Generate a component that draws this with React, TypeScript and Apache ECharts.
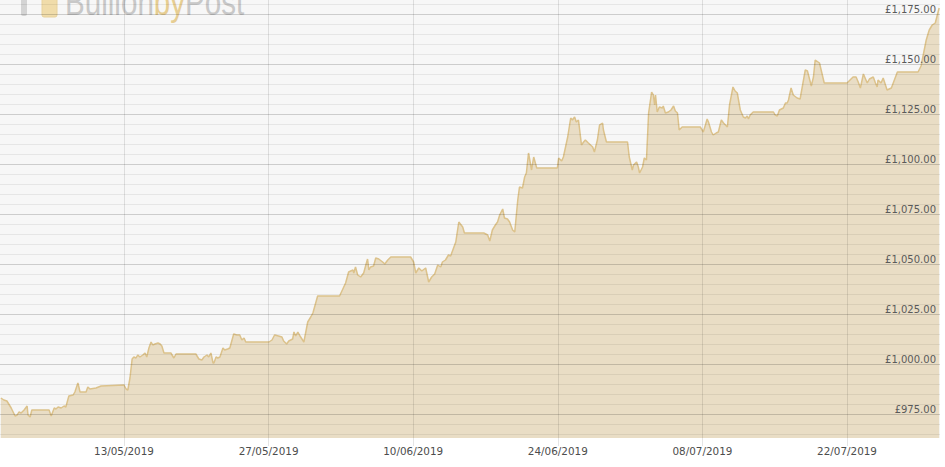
import React, { useEffect, useRef } from "react";
import * as echarts from "echarts";

// Gold price (GBP per ounce), hourly samples
const mayPrices: [string, number][] = [
  ["2019-05-01 02:00", 983], ["2019-05-01 09:00", 982], ["2019-05-01 16:00", 981.5],
  ["2019-05-02 02:00", 978], ["2019-05-02 11:00", 974], ["2019-05-02 16:00", 974.5],
  ["2019-05-02 20:00", 976], ["2019-05-03 01:00", 975.5], ["2019-05-03 08:00", 977],
  ["2019-05-03 15:00", 979], ["2019-05-03 17:00", 974.5], ["2019-05-03 22:00", 973.5],
  ["2019-05-04 02:00", 977], ["2019-05-05 18:00", 977], ["2019-05-05 23:00", 974],
  ["2019-05-06 06:00", 978], ["2019-05-06 10:00", 977.5], ["2019-05-06 15:00", 978.5],
  ["2019-05-06 22:00", 978], ["2019-05-07 05:00", 979], ["2019-05-07 09:00", 978.5],
  ["2019-05-07 16:00", 984], ["2019-05-08 02:00", 984.5], ["2019-05-08 06:00", 986],
  ["2019-05-08 13:00", 990.5], ["2019-05-08 18:00", 986], ["2019-05-09 08:00", 986],
  ["2019-05-09 12:00", 988.5], ["2019-05-09 17:00", 987.5], ["2019-05-10 07:00", 988],
  ["2019-05-10 19:00", 989], ["2019-05-13 00:00", 989.5], ["2019-05-13 05:00", 987.5],
  ["2019-05-13 09:00", 987], ["2019-05-13 14:00", 993], ["2019-05-13 19:00", 1002.5],
  ["2019-05-13 23:00", 1003.5], ["2019-05-14 04:00", 1003], ["2019-05-14 08:00", 1004.5],
  ["2019-05-14 13:00", 1003.5], ["2019-05-14 20:00", 1004.5], ["2019-05-15 01:00", 1005.5],
  ["2019-05-15 05:00", 1003.5], ["2019-05-15 10:00", 1008], ["2019-05-15 15:00", 1011],
  ["2019-05-15 19:00", 1009.5], ["2019-05-16 00:00", 1010], ["2019-05-16 07:00", 1010.5],
  ["2019-05-16 12:00", 1010], ["2019-05-16 16:00", 1009], ["2019-05-16 21:00", 1005.5],
  ["2019-05-17 13:00", 1005.5], ["2019-05-17 20:00", 1003], ["2019-05-18 01:00", 1005],
  ["2019-05-19 23:00", 1005], ["2019-05-20 06:00", 1002.5], ["2019-05-20 13:00", 1002],
  ["2019-05-20 18:00", 1003.5], ["2019-05-21 01:00", 1004.5], ["2019-05-21 05:00", 1003.5],
  ["2019-05-21 10:00", 1005.5], ["2019-05-21 15:00", 1000.5], ["2019-05-21 17:00", 1000.5],
  ["2019-05-21 22:00", 1003.5], ["2019-05-22 02:00", 1003], ["2019-05-22 07:00", 1003.5],
  ["2019-05-22 14:00", 1008], ["2019-05-22 18:00", 1007], ["2019-05-23 01:00", 1007.5],
  ["2019-05-23 06:00", 1008], ["2019-05-23 15:00", 1015], ["2019-05-23 22:00", 1014.5],
  ["2019-05-24 05:00", 1014.5], ["2019-05-24 10:00", 1012], ["2019-05-24 15:00", 1013],
  ["2019-05-24 19:00", 1011], ["2019-05-27 01:00", 1011], ["2019-05-27 08:00", 1012],
  ["2019-05-27 14:00", 1014.5], ["2019-05-27 23:00", 1014], ["2019-05-28 07:00", 1013.5],
  ["2019-05-28 11:00", 1011.5], ["2019-05-28 18:00", 1010], ["2019-05-28 23:00", 1011.5],
  ["2019-05-29 08:00", 1012.5], ["2019-05-29 11:00", 1016], ["2019-05-29 15:00", 1014],
  ["2019-05-29 20:00", 1016], ["2019-05-30 01:00", 1014], ["2019-05-30 10:00", 1011],
  ["2019-05-30 19:00", 1021], ["2019-05-31 02:00", 1023.5], ["2019-05-31 07:00", 1025.5],
  ["2019-05-31 18:00", 1034],
];

const junePrices: [string, number][] = [
  ["2019-06-02 21:00", 1034], ["2019-06-03 11:00", 1040.5], ["2019-06-03 18:00", 1046],
  ["2019-06-04 04:00", 1047], ["2019-06-04 06:00", 1045.5], ["2019-06-04 10:00", 1048.5],
  ["2019-06-04 15:00", 1044.5], ["2019-06-04 22:00", 1043.5], ["2019-06-05 05:00", 1045.5],
  ["2019-06-05 10:00", 1049.5], ["2019-06-05 14:00", 1052.5], ["2019-06-05 17:00", 1047],
  ["2019-06-05 21:00", 1048.5], ["2019-06-06 04:00", 1049], ["2019-06-06 09:00", 1053],
  ["2019-06-06 16:00", 1052.5], ["2019-06-07 01:00", 1051], ["2019-06-07 06:00", 1050],
  ["2019-06-07 13:00", 1052], ["2019-06-07 20:00", 1053.5], ["2019-06-09 18:00", 1053.5],
  ["2019-06-10 01:00", 1051], ["2019-06-10 06:00", 1045.5], ["2019-06-10 13:00", 1048],
  ["2019-06-10 20:00", 1046.5], ["2019-06-11 05:00", 1048], ["2019-06-11 12:00", 1041],
  ["2019-06-11 19:00", 1043.5], ["2019-06-12 02:00", 1045], ["2019-06-12 09:00", 1049.5],
  ["2019-06-12 16:00", 1048.5], ["2019-06-12 20:00", 1051], ["2019-06-13 03:00", 1052],
  ["2019-06-13 10:00", 1054.5], ["2019-06-13 15:00", 1054], ["2019-06-14 03:00", 1061],
  ["2019-06-14 10:00", 1071], ["2019-06-14 19:00", 1068.5], ["2019-06-14 23:00", 1065.5],
  ["2019-06-16 20:00", 1065.5], ["2019-06-17 05:00", 1064.5], ["2019-06-17 10:00", 1061.5],
  ["2019-06-17 16:00", 1067], ["2019-06-17 23:00", 1069.5], ["2019-06-18 04:00", 1071],
  ["2019-06-18 09:00", 1074.5], ["2019-06-18 16:00", 1077.5], ["2019-06-18 20:00", 1073],
  ["2019-06-19 03:00", 1072.5], ["2019-06-19 08:00", 1071], ["2019-06-19 15:00", 1067],
  ["2019-06-19 20:00", 1066], ["2019-06-20 03:00", 1082], ["2019-06-20 07:00", 1088.5],
  ["2019-06-20 14:00", 1088], ["2019-06-20 19:00", 1093.5], ["2019-06-20 23:00", 1095.5],
  ["2019-06-21 04:00", 1105.5], ["2019-06-21 11:00", 1097], ["2019-06-21 16:00", 1103.5],
  ["2019-06-21 23:00", 1098], ["2019-06-23 23:00", 1098], ["2019-06-24 02:00", 1103],
  ["2019-06-24 09:00", 1101.5], ["2019-06-24 13:00", 1103.5], ["2019-06-24 23:00", 1113.5],
  ["2019-06-25 06:00", 1123], ["2019-06-25 10:00", 1122], ["2019-06-25 15:00", 1123.5],
  ["2019-06-25 19:00", 1121], ["2019-06-26 00:00", 1122], ["2019-06-26 07:00", 1109.5],
  ["2019-06-26 12:00", 1111], ["2019-06-26 16:00", 1112], ["2019-06-26 23:00", 1110.5],
  ["2019-06-27 09:00", 1108.5], ["2019-06-27 13:00", 1106], ["2019-06-27 20:00", 1112],
  ["2019-06-28 01:00", 1119.5], ["2019-06-28 08:00", 1120.5], ["2019-06-28 10:00", 1117],
  ["2019-06-28 17:00", 1111], ["2019-06-30 18:00", 1111], ["2019-06-30 22:00", 1103.5],
];

const julyPrices: [string, number][] = [
  ["2019-07-01 05:00", 1097], ["2019-07-01 08:00", 1099.5], ["2019-07-01 15:00", 1101],
  ["2019-07-01 19:00", 1098.5], ["2019-07-01 22:00", 1095.5], ["2019-07-02 05:00", 1098.5],
  ["2019-07-02 09:00", 1103], ["2019-07-02 14:00", 1102], ["2019-07-02 19:00", 1125.5],
  ["2019-07-03 02:00", 1136], ["2019-07-03 06:00", 1134.5], ["2019-07-03 09:00", 1129.5],
  ["2019-07-03 11:00", 1134.5], ["2019-07-03 15:00", 1126], ["2019-07-03 20:00", 1128.5],
  ["2019-07-04 03:00", 1128], ["2019-07-04 05:00", 1129], ["2019-07-04 10:00", 1125.5],
  ["2019-07-04 17:00", 1126], ["2019-07-04 23:00", 1127], ["2019-07-05 05:00", 1129],
  ["2019-07-05 09:00", 1126.5], ["2019-07-05 14:00", 1125.5], ["2019-07-05 18:00", 1117],
  ["2019-07-06 01:00", 1118.5], ["2019-07-07 19:00", 1118.5], ["2019-07-08 02:00", 1116],
  ["2019-07-08 07:00", 1119.5], ["2019-07-08 11:00", 1122.5], ["2019-07-08 14:00", 1121],
  ["2019-07-08 21:00", 1116], ["2019-07-09 01:00", 1114.5], ["2019-07-09 08:00", 1115.5],
  ["2019-07-09 13:00", 1116], ["2019-07-09 20:00", 1122], ["2019-07-10 01:00", 1120.5],
  ["2019-07-10 10:00", 1118.5], ["2019-07-10 15:00", 1129.5], ["2019-07-10 23:00", 1138.5],
  ["2019-07-11 04:00", 1136.5], ["2019-07-11 09:00", 1135.5], ["2019-07-11 16:00", 1127],
  ["2019-07-11 23:00", 1123.5], ["2019-07-12 04:00", 1123], ["2019-07-12 08:00", 1124],
  ["2019-07-12 11:00", 1122.5], ["2019-07-12 15:00", 1124.5], ["2019-07-12 22:00", 1126],
  ["2019-07-14 21:00", 1126], ["2019-07-15 01:00", 1124.5], ["2019-07-15 06:00", 1124],
  ["2019-07-15 11:00", 1127], ["2019-07-15 20:00", 1128], ["2019-07-16 01:00", 1130.5],
  ["2019-07-16 05:00", 1130.5], ["2019-07-16 08:00", 1132], ["2019-07-16 14:00", 1138],
  ["2019-07-16 19:00", 1134.5], ["2019-07-17 04:00", 1133], ["2019-07-17 11:00", 1132.5],
  ["2019-07-17 23:00", 1147], ["2019-07-18 04:00", 1146.5], ["2019-07-18 13:00", 1139],
  ["2019-07-18 18:00", 1143.5], ["2019-07-18 22:00", 1152], ["2019-07-19 08:00", 1150.5],
  ["2019-07-19 19:00", 1140.5], ["2019-07-22 00:00", 1140.5], ["2019-07-22 07:00", 1142],
  ["2019-07-22 14:00", 1143.5], ["2019-07-22 21:00", 1143.5], ["2019-07-23 02:00", 1141],
  ["2019-07-23 07:00", 1138], ["2019-07-23 14:00", 1145], ["2019-07-23 23:00", 1140.5],
  ["2019-07-24 04:00", 1142.5], ["2019-07-24 13:00", 1143.5], ["2019-07-24 18:00", 1140.5],
  ["2019-07-24 22:00", 1138.5], ["2019-07-25 00:00", 1142], ["2019-07-25 07:00", 1140.5],
  ["2019-07-25 12:00", 1143], ["2019-07-25 21:00", 1137], ["2019-07-26 07:00", 1138],
  ["2019-07-26 14:00", 1142], ["2019-07-26 21:00", 1146], ["2019-07-28 21:00", 1146],
  ["2019-07-29 04:00", 1149], ["2019-07-29 16:00", 1162], ["2019-07-29 23:00", 1167],
  ["2019-07-30 06:00", 1169.5], ["2019-07-30 13:00", 1170.5], ["2019-07-30 22:00", 1178],
];

const dateTicks = ["2019-05-13 00:00", "2019-05-27 00:00", "2019-06-10 00:00", "2019-06-24 00:00", "2019-07-08 00:00", "2019-07-22 00:00"];
const majorPriceTicks = [975, 1000, 1025, 1050, 1075, 1100, 1125, 1150, 1175];
const minorPriceTicks = [
  965, 970, 980, 985, 990, 995, 1005, 1010, 1015, 1020, 1030, 1035, 1040, 1045,
  1055, 1060, 1065, 1070, 1080, 1085, 1090, 1095, 1105, 1110, 1115, 1120,
  1130, 1135, 1140, 1145, 1155, 1160, 1165, 1170, 1180,
];

const toTs = (s: string) => new Date(s.replace(" ", "T") + ":00").getTime();
const pad = (n: number) => (n < 10 ? "0" + n : "" + n);
const fmtDate = (v: number) => {
  const d = new Date(v);
  return `${pad(d.getDate())}/${pad(d.getMonth() + 1)}/${d.getFullYear()}`;
};
const fmtPrice = (v: number) => {
  const [i, f] = v.toFixed(2).split(".");
  return "£" + i.replace(/\B(?=(\d{3})+(?!\d))/g, ",") + "." + f;
};

export default function App() {
  const ref = useRef<HTMLDivElement>(null);
  useEffect(() => {
    if (!ref.current) return;
    const chart = echarts.init(ref.current, undefined, { renderer: "svg" });
    const data = [...mayPrices, ...junePrices, ...julyPrices].map(([t, v]) => [toTs(t), v]);
    const tickTs = dateTicks.map(toTs);
    const yMin = 963;
    const yMax = 1182;
    chart.setOption({
      animation: false,
      backgroundColor: "#ffffff",
      grid: {
        left: 0,
        right: 5,
        top: 0,
        bottom: 29,
        show: true,
        backgroundColor: "#f7f7f7",
        borderWidth: 0,
      },
      xAxis: {
        type: "value",
        min: toTs("2019-05-01 00:00"),
        max: toTs("2019-07-31 00:00"),
        z: 3,
        axisLine: { show: false },
        axisTick: {
          show: true,
          length: 8,
          customValues: tickTs,
          lineStyle: { color: "rgba(0,0,0,0.1)" },
        },
        axisLabel: {
          customValues: tickTs,
          formatter: (v: number) => fmtDate(v),
          color: "#4d4d4d",
          fontFamily: "DejaVu Sans",
          fontSize: 10.4,
          margin: 8,
        },
        splitLine: { show: true, lineStyle: { color: "rgba(0,0,0,0.1)", width: 1 } },
      },
      yAxis: [
        {
          type: "value",
          position: "left",
          min: yMin,
          max: yMax,
          z: 3,
          axisLine: { show: false },
          axisTick: { show: false, customValues: minorPriceTicks },
          axisLabel: { show: false, customValues: minorPriceTicks },
          splitLine: { show: true, lineStyle: { color: "rgba(0,0,0,0.065)", width: 1 } },
        },
        {
          type: "value",
          position: "right",
          min: yMin,
          max: yMax,
          z: 4,
          axisLine: { show: false },
          axisTick: { show: false, customValues: majorPriceTicks },
          axisLabel: {
            customValues: majorPriceTicks,
            inside: true,
            margin: 4,
            verticalAlign: "bottom",
            formatter: (v: number) => fmtPrice(v),
            color: "#5a5a5a",
            fontFamily: "DejaVu Sans",
            fontSize: 10,
          },
          splitLine: { show: true, lineStyle: { color: "rgba(0,0,0,0.17)", width: 1 } },
        },
      ],
      series: [
        {
          type: "line",
          data,
          yAxisIndex: 0,
          z: 2,
          showSymbol: false,
          symbol: "none",
          lineStyle: { color: "#dcc28b", width: 1.5 },
          areaStyle: { color: "#e9ddc5", opacity: 1 },
        },
      ],
      graphic: [
        {
          type: "group",
          z: 1,
          silent: true,
          children: [
            {
              type: "rect",
              shape: { x: 21, y: -6, width: 6, height: 22, r: 2 },
              style: { fill: "#d4d4d4" },
            },
            {
              type: "rect",
              shape: { x: 42, y: -6, width: 15, height: 23, r: 2 },
              style: { fill: "#f0dcaa", stroke: "#e8d29c", lineWidth: 1 },
            },
            {
              type: "text",
              x: 65,
              y: 2,
              scaleX: 0.8,
              style: {
                text: "{a|Bullion}{b|by}{a|Post}",
                verticalAlign: "middle",
                rich: {
                  a: { fontFamily: "Liberation Sans", fontSize: 37, fill: "#c8c8c8" },
                  b: { fontFamily: "Liberation Sans", fontSize: 37, fill: "#e6cd92" },
                },
              },
            },
          ],
        },
      ],
    });
    return () => chart.dispose();
  }, []);
  return (
    <div
      ref={ref}
      style={{ position: "fixed", left: 0, top: 0, width: 945, height: 467 }}
    />
  );
}
